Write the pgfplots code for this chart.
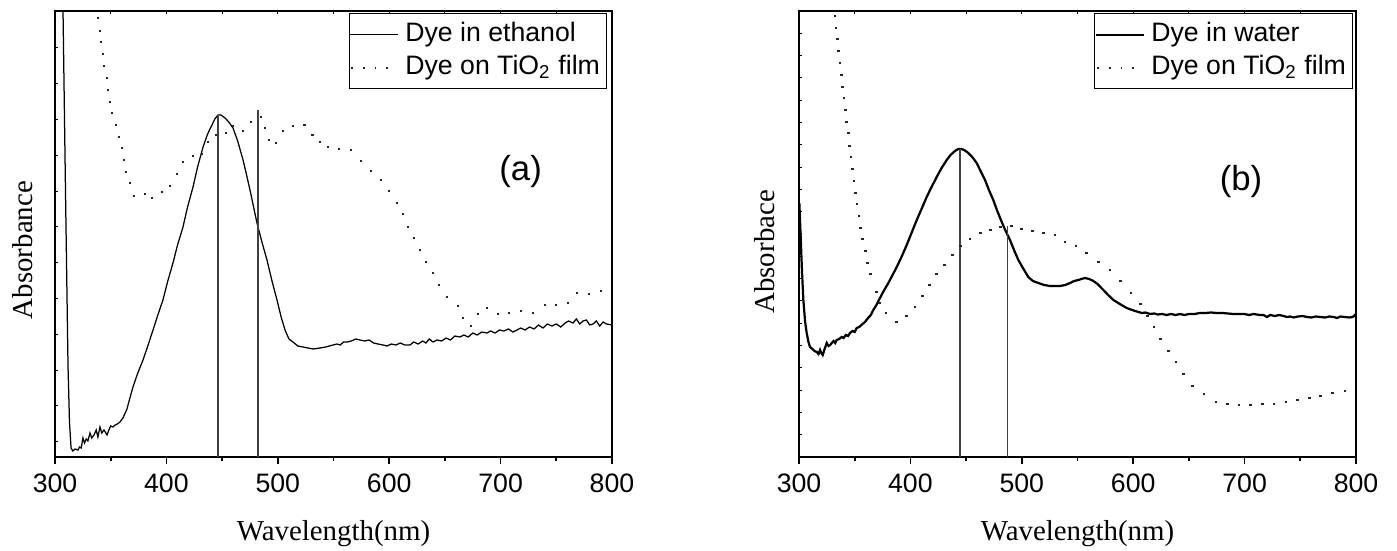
\documentclass[border=0pt]{standalone}
\usepackage{fontspec}
\setmainfont{Liberation Serif}
\newfontfamily\arial{Liberation Sans}
\usepackage{pgfplots}
\pgfplotsset{compat=1.18}

\pgfplotsset{
  base/.style={scale only axis, width=200.52pt, height=160.56pt,
    xmin=300, xmax=800, ymin=0, ymax=446},
  main/.style={base,
    axis line style={line width=0.7pt},
    xtick={300,400,...,800}, minor xtick={350,450,...,750},
    xtick pos=left, ytick=\empty, tick align=outside,
    major tick length=2.5pt, minor tick length=1.5pt,
    tick style={line width=0.6pt, black},
    xticklabel style={font=\arial\fontsize{9.6}{11}\selectfont},
    /pgf/number format/assume math mode=true,
    xlabel={Wavelength(nm)},
    label style={font=\fontsize{10.4}{12}\selectfont},
    xlabel style={at={(axis description cs:0.5,0)}, anchor=center, yshift=-27.4pt},
    legend cell align=left,
    legend style={draw=black, line width=0.5pt, inner xsep=0pt, inner ysep=1.6pt,
      font=\arial\fontsize{9.6}{11}\selectfont,
      nodes={inner xsep=2.3pt, inner ysep=1.3pt, text height=7pt, text depth=2.3pt}},
  },
  over/.style={base, axis line style={draw=none},
    xtick={300,350,...,800}, xtick pos=right, ytick pos=left, tick align=inside,
    xticklabels={}, yticklabels={}, major tick length=1.2pt,
    tick style={line width=0.4pt, black}},
  solidleg/.style={legend image code/.code={\draw[line width=#1] (0pt,0pt) -- (17.3pt,0pt);}},
  dotleg/.style={legend image code/.code={\draw[line width=0.6pt, dash pattern=on 0.6pt off 3.6pt] (0.5pt,0pt) -- (17.3pt,0pt);}},
  dots/.style={only marks, mark=square*, mark size=0.3pt, black!85},
}

\begin{document}
\begin{tikzpicture}
% ---------------- panel (a) ----------------
\begin{axis}[main, at={(0pt,0pt)}, anchor=south west,
  ylabel={Absorbance},
  ylabel style={at={(axis description cs:-0.0575,0.464)}, anchor=center},
  legend style={at={(rel axis cs:0.991,0.9955)}, anchor=north east}]
\addplot[black, line width=0.45pt, solidleg=0.45pt] coordinates {
(306.5,470) (307.2,446) (309.5,260) (311.7,90) (313,35) (314.4,9) (316,6) (318,8) (320.6,7)
(322,10) (323.5,9) (325.1,19) (326.5,14) (328,18) (329.5,16) (331.4,24) (333,19) (335,22)
(337,27) (338.5,20) (340.4,30) (342,24) (344,27) (346.7,22) (348,26) (350,31) (352,30)
(354,32) (356,33) (358.3,35) (361,39) (364.6,48) (367,58) (370,70) (374,83) (379,97)
(383,110) (388,127) (392,141) (396.9,157) (401,175) (405.9,194) (410,212) (414.9,230)
(419,250) (423.9,270) (428,290) (432.9,310) (437,323) (440.9,332) (443.5,338) (446.3,342)
(449,342) (452.6,339) (456,335) (459.8,329) (464,316) (468.8,297) (472,282) (476,262)
(481.3,234) (486,214) (490.3,197) (495,175) (499.3,157) (503,140) (506.5,127) (510,118)
(513.6,115) (518,111) (522.6,110) (527,109) (532,108) (537.9,109) (543,110) (549.6,112)
(553,113) (556,112) (559,115) (562.1,115) (566,116) (570,118) (573.8,117) (578,116)
(582,117) (586,114) (590,113) (594.4,112) (598,111) (602,113) (606,112) (610,114)
(614,112) (618.7,112) (622,115) (626,113) (630,116) (633,114) (636,118) (639.3,115)
(643,117) (647,116) (651,119) (655,117) (659,121) (663.6,120) (667,122) (671,120)
(675,124) (679,122) (683,125) (687.8,124) (691,126) (695,124) (699,127) (703,126)
(707,128) (711,125) (714.7,127) (718,129) (722,127) (726,130) (730,128) (734,132)
(738.1,129) (742,133) (746,131) (750,133) (754,130) (758,134) (761,136) (765,134)
(768,138) (771,133) (774,136) (777,137) (780,132) (783,133) (786,136) (789,131)
(792,135) (795,133) (800,132)};
\addlegendentry{Dye in ethanol}
\addplot[dots, dotleg] coordinates {
(338.6,439) (340.4,426) (341.3,415) (343.1,403) (344,391) (346.7,379) (347.6,367)
(349.4,355) (351.2,344) (354.8,332) (357.5,320) (360.1,309) (361.9,297) (363.7,285)
(367.3,274) (370.9,261) (380.8,263) (387.1,259) (396,265) (403.2,271) (409.5,283)
(414.9,295) (423.9,301) (432,303) (437.3,315) (444.5,322) (453.5,324) (459.8,331)
(468.8,326) (475.9,335) (484.9,340) (488.5,329) (492.1,317) (498.4,314) (504.7,326)
(513.6,331) (524,332) (531,322) (537.9,315) (545,310) (554.9,308) (565.7,307)
(574.7,296) (583.7,286) (592.6,277) (599.8,266) (607,254) (612.4,243) (616.9,230)
(622.3,219) (627.6,207) (633,195) (639.3,184) (644.7,172) (651.9,160) (661.8,151)
(666.2,139) (673.4,131) (679.7,143) (687.8,149) (697.7,143) (707.5,144) (718.3,146)
(729.1,144) (739.9,152) (749.7,152) (760.5,154) (768.6,164) (779.4,163) (790.1,166)};
\addlegendentry{Dye on TiO\textsubscript{2} film}
\addplot[black!75, line width=0.45pt, forget plot] coordinates {(446.3,0) (446.3,342)};
\addplot[black!75, line width=0.45pt, forget plot] coordinates {(482.2,0) (482.2,347)};
\node[font=\arial\fontsize{12.5}{14}\selectfont] at (axis cs:718,285) {(a)};
\end{axis}
\begin{axis}[over, at={(0pt,0pt)}, anchor=south west,
  ytick={15.3,51.1,...,420}]
\end{axis}

% ---------------- panel (b) ----------------
\begin{axis}[main, at={(267.84pt,0pt)}, anchor=south west,
  ylabel={Absorbace},
  ylabel style={at={(axis description cs:-0.061,0.46)}, anchor=center},
  legend style={at={(rel axis cs:0.9946,0.9955)}, anchor=north east}]
\addplot[black, line width=0.8pt, solidleg=0.8pt] coordinates {
(300.3,254) (301.5,220) (302.7,185) (303.9,157) (305.5,135) (306.9,124) (308.5,115)
(309.9,110) (312,108) (314,106) (315.9,105) (317.5,103) (318.9,107) (320,104) (321.3,102)
(323,108) (324.9,114) (326.5,111) (328,112) (329.4,114) (331,116) (332.5,114) (333.8,117)
(336,118) (338.3,120) (340,119) (342,122) (344,121) (345.8,124) (348,126) (350,125)
(351.8,129) (354,130) (356,132) (359.2,135) (362,139) (364.5,142) (366.7,147) (369.5,152)
(372.7,159) (376,166) (380.2,174) (384,182) (387.7,190) (392,200) (396.7,212) (401,224)
(405.7,237) (410,248) (414.6,260) (419,270) (423.6,280) (428,289) (432.6,297) (436,302)
(440,306) (443,308) (446,308) (449,306.5) (452,304) (455.5,300) (459.5,294) (463,286)
(467,277) (470.5,267) (474.4,257) (478,246) (482,235) (485.5,226) (489.4,217) (493,207)
(496.9,197) (501,189) (505.8,180) (510,176) (514.8,174) (520,172) (525.3,171) (530,171)
(534.3,171) (539,172) (543.3,174) (547,176) (550.7,177) (553.5,178) (556.7,179)
(560.5,178) (564.2,176) (568,173) (573.2,167) (577.5,162) (582.2,157) (588,153)
(594.2,149) (599,147) (604.6,145) (608,144) (611,144.5) (615.1,143) (619,143.5)
(622,142.5) (626,143) (630,142) (634,143) (638,142) (642,143) (646,142) (650,143)
(655,143) (660,144) (665,144) (670,144.5) (675,144) (680,144) (685,143.5) (690,143)
(695.9,143) (700,143) (704,142) (708,143) (713.8,142) (717,142) (720,140) (723,142)
(727,141) (731,142) (735,141) (738,140) (740.8,140.5) (744,139.5) (748,140.5) (752,141)
(756,140) (760,139.5) (764,140.5) (768,140) (772,139.5) (776,140.5) (780,140) (783,139)
(786,140.5) (790,140) (794,139.5) (797,140) (799,142) (800,140)};
\addlegendentry{Dye in water}
\addplot[dots, dotleg] coordinates {
(332.3,441) (333.2,429) (334.4,418) (335.6,406) (336.8,394) (338,382) (339.2,370)
(340.4,359) (341.9,347) (342.8,335) (344.3,324) (345.5,311) (346.7,300) (348.2,288)
(349.4,276) (350.6,264) (352.1,253) (353.9,241) (355.4,229) (356.8,218) (359.5,206)
(361.7,194) (364.4,183) (369.8,165) (372.1,154) (378.1,144) (387.7,135) (396.7,141)
(404.1,150) (411,161) (417,172) (423.6,183) (430.4,192) (437.6,202) (445.1,211)
(453.5,218) (463.1,224) (472.1,227) (481,230) (490.9,231) (499.9,228) (509.8,226)
(519.3,224) (529.8,222) (538.8,215) (548.7,211) (558.3,204) (568.7,195) (579.2,187)
(588.8,176) (598,164) (606.7,153) (612.7,141) (618.7,130) (624.7,118) (631.5,106)
(638.4,95) (645,83) (653.4,71) (663.6,63) (674.3,55) (684.5,53) (695,52) (705.5,52)
(715.9,53) (726.4,53) (737.2,55) (747.3,57) (758.1,59) (768.3,61) (778.7,64) (790.1,66)};
\addlegendentry{Dye on TiO\textsubscript{2} film}
\addplot[black!75, line width=0.45pt, forget plot] coordinates {(444.5,0) (444.5,308)};
\addplot[black!75, line width=0.45pt, forget plot] coordinates {(487.3,0) (487.3,231)};
\node[font=\arial\fontsize{12.5}{14}\selectfont] at (axis cs:696.8,275) {(b)};
\end{axis}
\begin{axis}[over, at={(267.84pt,0pt)}, anchor=south west,
  ytick={22.3,44.6,...,424}]
\end{axis}

\pgfresetboundingbox
\path[use as bounding box] (-19.8pt,-33.48pt) rectangle (483.12pt,164.52pt);
\end{tikzpicture}
\end{document}
